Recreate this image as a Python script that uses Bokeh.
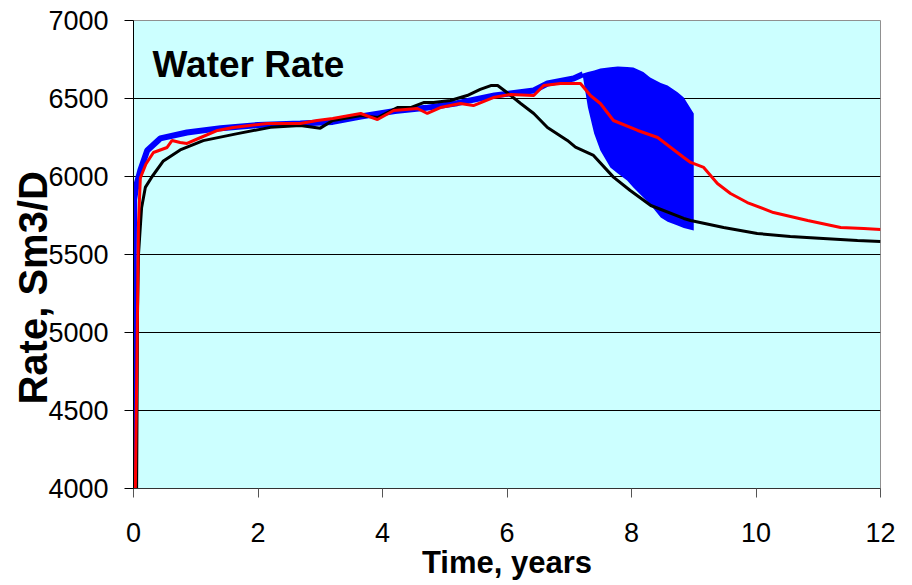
from bokeh.plotting import figure
from bokeh.models import Range1d, Label, FixedTicker
from bokeh.embed import file_html
from bokeh.resources import INLINE

# ---- data ----
blue_t = [0.0, 0.005, 0.01, 0.05, 0.11, 0.22, 0.43, 0.86, 1.4, 2.0, 2.68, 3.2, 3.65,
          4.2, 4.7, 5.2, 5.8, 6.43, 6.65, 7.07, 7.22]
blue_rate = [4000, 5500, 5850, 5950, 6040, 6167, 6244, 6282, 6310, 6330, 6340, 6350, 6385,
             6420, 6440, 6470, 6520, 6551, 6596, 6628, 6655]

band_t = [7.22, 7.3, 7.4, 7.5, 7.66, 7.78, 7.93, 8.03, 8.19, 8.3, 8.47, 8.58, 8.74, 8.84, 9.0]
band_top = [6660, 6670, 6680, 6692, 6700, 6705, 6702, 6699, 6670, 6635, 6600, 6583, 6540, 6506, 6404]
band_bottom = [6640, 6442, 6276, 6167, 6058, 6020, 5974, 5930, 5865, 5820, 5737, 5710, 5686, 5670, 5654]

black_t = [0.05, 0.065, 0.08, 0.13, 0.19, 0.3, 0.48, 0.75, 1.12, 1.67, 2.2, 2.68, 3.0, 3.2,
           3.65, 3.92, 4.24, 4.45, 4.66, 4.82, 5.09, 5.36, 5.57, 5.74, 5.85, 6.0, 6.22,
           6.43, 6.65, 6.97, 7.1, 7.39, 7.71, 7.98, 8.31, 8.84, 8.95, 9.48, 10.02, 10.55,
           11.08, 11.63, 12.0]
black_rate = [4000, 5140, 5500, 5800, 5930, 6000, 6100, 6170, 6230, 6275, 6315, 6327, 6310, 6359,
              6391, 6378, 6442, 6442, 6474, 6474, 6487, 6519, 6558, 6583, 6583, 6538, 6468,
              6404, 6314, 6231, 6188, 6135, 5996, 5910, 5814, 5731, 5718, 5673, 5635, 5615,
              5603, 5590, 5583]

red_t = [0.03, 0.06, 0.08, 0.11, 0.2, 0.32, 0.54, 0.62, 0.75, 0.86, 1.08, 1.35, 1.6, 2.15,
         2.68, 2.95, 3.2, 3.65, 3.92, 4.18, 4.56, 4.72, 4.93, 5.25, 5.46, 5.78, 6.06, 6.43,
         6.59, 6.86, 7.18, 7.34, 7.5, 7.71, 8.1, 8.42, 8.84, 8.95, 9.16, 9.38, 9.59, 9.86,
         10.28, 10.83, 11.36, 11.73, 12.0]
red_rate = [4000, 5000, 5700, 5990, 6080, 6154, 6186, 6231, 6218, 6212, 6250, 6295, 6314, 6340,
            6340, 6359, 6372, 6404, 6365, 6423, 6436, 6404, 6442, 6468, 6455, 6506, 6526, 6519,
            6583, 6596, 6596, 6519, 6468, 6359, 6295, 6250, 6122, 6090, 6058, 5955, 5891, 5833,
            5769, 5718, 5673, 5667, 5660]

x_ticks = [0, 2, 4, 6, 8, 10, 12]
y_ticks = [4000, 4500, 5000, 5500, 6000, 6500, 7000]

FONT = "Liberation Sans"

p = figure(width=912, height=585, output_backend="svg", toolbar_location=None,
           x_range=Range1d(0, 12), y_range=Range1d(4000, 7000),
           min_border_left=133, min_border_right=32, min_border_top=20, min_border_bottom=97)
p.background_fill_color = "#CCFFFF"
p.border_fill_color = "white"
p.outline_line_color = "#909090"
p.outline_line_width = 1

p.xgrid.visible = False
p.ygrid.grid_line_color = "black"
p.ygrid.grid_line_width = 1
p.ygrid.ticker = FixedTicker(ticks=y_ticks)

p.xaxis.ticker = FixedTicker(ticks=x_ticks)
p.yaxis.ticker = FixedTicker(ticks=y_ticks)
for ax in (p.xaxis, p.yaxis):
    ax.major_label_text_font = FONT
    ax.major_label_text_font_size = "27px"
    ax.major_label_text_color = "black"
    ax.major_tick_in = 0
    ax.major_tick_out = 9
    ax.minor_tick_in = 0
    ax.minor_tick_out = 0
    ax.axis_label_text_font = FONT
    ax.axis_label_text_font_style = "bold"
    ax.axis_label_text_color = "black"
p.yaxis.axis_line_color = "black"
p.yaxis.major_tick_line_color = "black"
p.yaxis.major_label_standoff = 16
p.xaxis.axis_line_color = "#333333"
p.xaxis.major_tick_line_color = "#555555"
p.xaxis.major_label_standoff = 25

p.xaxis.axis_label = "Time, years"
p.xaxis.axis_label_text_font_size = "31px"
p.xaxis.axis_label_standoff = 0
p.yaxis.axis_label = "Rate, Sm3/D" + "\u00a0" * 6
p.yaxis.axis_label_text_font_size = "40px"
p.yaxis.axis_label_standoff = -10

# series
p.varea(x=band_t, y1=band_bottom, y2=band_top, fill_color="#0000FF")
p.line(blue_t, blue_rate, line_color="#0000FF", line_width=6)
p.line(black_t, black_rate, line_color="black", line_width=3)
p.line(red_t, red_rate, line_color="#FF0000", line_width=3)

# chart title inside the plot area
p.add_layout(Label(x=19, y=424, x_units="screen", y_units="screen", text="Water Rate",
                   text_font=FONT, text_font_style="bold", text_font_size="37px",
                   text_baseline="alphabetic", text_align="left", text_color="black"))

open("out.html", "w").write(file_html(p, INLINE))
